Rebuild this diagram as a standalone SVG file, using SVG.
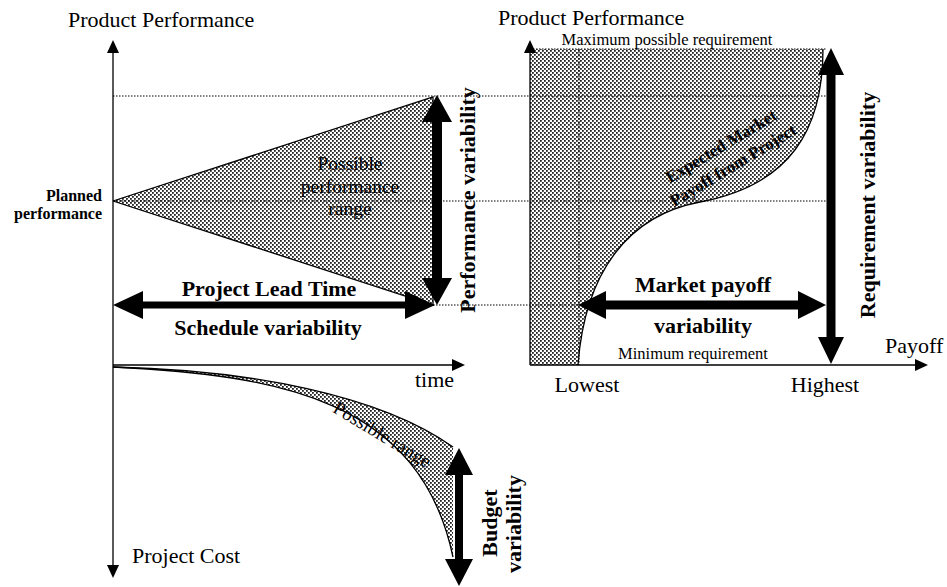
<svg xmlns="http://www.w3.org/2000/svg" width="947" height="587" viewBox="0 0 947 587">
<style>
.t{font-family:"Liberation Serif","Times New Roman",serif;fill:#000}
.b{font-weight:bold}
.ax{stroke:#000;stroke-width:1.3;fill:none}
.dot{stroke:#000;stroke-width:1;stroke-dasharray:1.5,1.5;fill:none}
.shade{fill:url(#stip);stroke:none}
.edge{fill:none;stroke:#000;stroke-width:1.3}
.arr{fill:#000;stroke:none}
</style>
<defs>
<pattern id="stip" width="4" height="4" patternUnits="userSpaceOnUse">
<rect width="4" height="4" fill="#fff"/>
<rect x="0" y="0" width="1.8" height="1.8" fill="#222"/>
<rect x="2" y="2" width="1.8" height="1.8" fill="#222"/>
</pattern>
</defs>
<rect width="947" height="587" fill="#fff"/>

<g id="shading">
<polygon class="shade" points="113,201 433,97 433,305"/>
<path class="shade" d="M113,367 C250,370 380,395 453,447 L453,557 C420,400 280,375 113,367 Z"/>
<path class="shade" d="M530,49 L823,49 C823,130 790,185 700,202 C630,215 585,270 578,365 L530,365 Z"/>
</g>

<g id="connectors">
<line class="dot" x1="113" y1="96" x2="827" y2="96"/>
<line class="dot" x1="113" y1="201" x2="827" y2="201"/>
<line class="dot" x1="433" y1="305" x2="580" y2="305"/>
<line class="dot" x1="530" y1="49" x2="826" y2="49"/>
<line class="dot" x1="579" y1="49" x2="579" y2="365"/>
<polyline class="edge" points="113,201 433,97 433,305 113,201"/>
<path class="edge" d="M113,367 C250,370 380,395 453,447"/>
<path class="edge" d="M453,557 C420,400 280,375 113,367"/>
<path class="edge" d="M823,49 C823,130 790,185 700,202 C630,215 585,270 578,365"/>
<line class="ax" x1="113" y1="50" x2="113" y2="568"/>
<polygon class="arr" points="113,40 107,53 119,53"/>
<polygon class="arr" points="113,578 107,565 119,565"/>
<line class="ax" x1="113" y1="365" x2="455" y2="365"/>
<polygon class="arr" points="465,365 452,359 452,371"/>
<line class="ax" x1="530" y1="50" x2="530" y2="365"/>
<polygon class="arr" points="530,40 524,53 536,53"/>
<line class="ax" x1="530" y1="365" x2="918" y2="365"/>
<polygon class="arr" points="928,365 915,359 915,371"/>
</g>

<g id="perf-arrow"><path class="arr" d="M437,95 L452,122 L442,122 L442,278 L452,278 L437,305 L422,278 L432,278 L432,122 L422,122 Z"/></g>
<g id="req-arrow"><path class="arr" d="M831,48 L844,75 L835.5,75 L835.5,337 L844,337 L831,364 L818,337 L826.5,337 L826.5,75 L818,75 Z"/></g>
<g id="budget-arrow"><path class="arr" d="M459,448 L473,475 L463,475 L463,559 L473,559 L459,586 L445,559 L455,559 L455,475 L445,475 Z"/></g>
<g id="lead-arrow"><path class="arr" d="M113,305 L143,291 L143,301.5 L405,301.5 L405,291 L435,305 L405,319 L405,308.5 L143,308.5 L143,319 Z"/></g>
<g id="payoff-arrow"><path class="arr" d="M578,305 L606,291 L606,300.5 L798,300.5 L798,291 L826,305 L798,319 L798,309.5 L606,309.5 L606,319 Z"/></g>

<g id="left-labels">
<text class="t" x="68" y="27" font-size="22">Product Performance</text>
<text class="t b" x="102" y="201" font-size="16" text-anchor="end">Planned</text>
<text class="t b" x="102" y="219" font-size="16" text-anchor="end">performance</text>
<text class="t" x="350" y="170" font-size="19.5" text-anchor="middle">Possible</text>
<text class="t" x="350" y="193" font-size="19.5" text-anchor="middle">performance</text>
<text class="t" x="350" y="215" font-size="19.5" text-anchor="middle">range</text>
<text class="t b" x="269" y="296" font-size="22" text-anchor="middle">Project Lead Time</text>
<text class="t b" x="268" y="335" font-size="22" text-anchor="middle">Schedule variability</text>
<text class="t b" font-size="22" text-anchor="middle" transform="translate(475,200) rotate(-90)">Performance variability</text>
<text class="t" x="415" y="387" font-size="22">time</text>
<text class="t" font-size="19" text-anchor="middle" transform="translate(379,440) rotate(31)">Possible range</text>
<text class="t" x="132" y="563" font-size="22">Project Cost</text>
<text class="t b" font-size="22" text-anchor="middle" transform="translate(497,523) rotate(-90)">Budget</text>
<text class="t b" font-size="22" text-anchor="middle" transform="translate(521,524) rotate(-90)">variability</text>
</g>

<g id="right-labels">
<text class="t" x="498" y="25" font-size="22">Product Performance</text>
<text class="t" x="667" y="45" font-size="16.5" text-anchor="middle">Maximum possible requirement</text>
<text class="t b" font-size="17" text-anchor="middle" transform="translate(724,151) rotate(-31)">Expected Market</text>
<text class="t b" font-size="17" text-anchor="middle" transform="translate(736,170) rotate(-31)">Payoff from Project</text>
<text class="t b" font-size="22" text-anchor="middle" transform="translate(875,205) rotate(-90)">Requirement variability</text>
<text class="t b" x="703" y="292" font-size="22" text-anchor="middle">Market payoff</text>
<text class="t b" x="703" y="333" font-size="22" text-anchor="middle">variability</text>
<text class="t" x="693" y="359" font-size="16.5" text-anchor="middle">Minimum requirement</text>
<text class="t" x="885" y="353" font-size="22">Payoff</text>
<text class="t" x="587" y="392" font-size="22" text-anchor="middle">Lowest</text>
<text class="t" x="825" y="392" font-size="22" text-anchor="middle">Highest</text>
</g>
</svg>
